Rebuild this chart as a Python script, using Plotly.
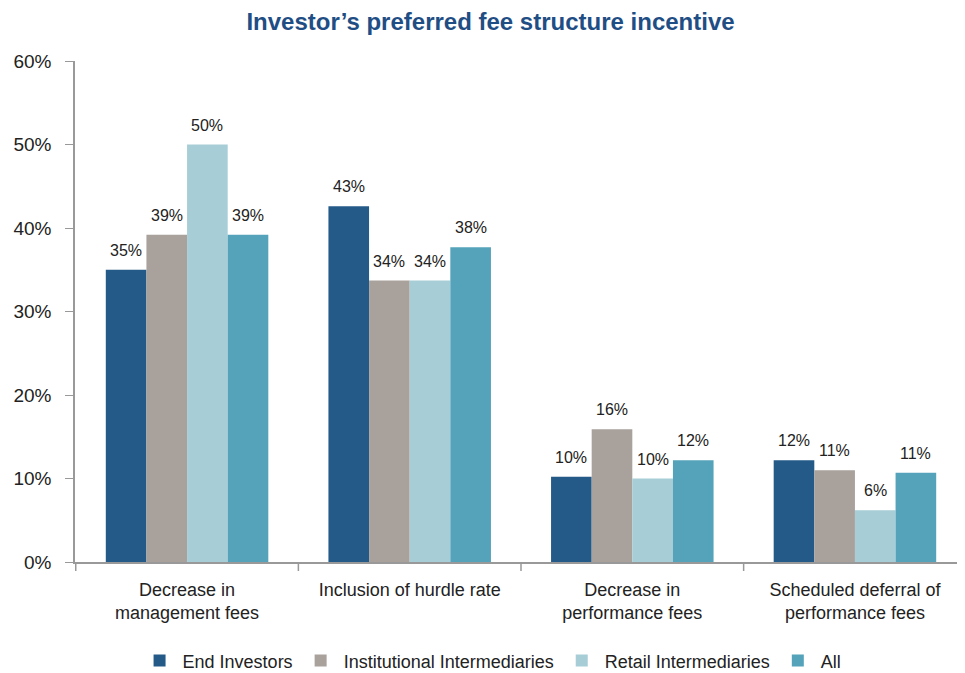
import plotly.graph_objects as go

categories = ["Decrease in<br>management fees", "Inclusion of hurdle rate",
              "Decrease in<br>performance fees", "Scheduled deferral of<br>performance fees"]
series_names = ["End Investors", "Institutional Intermediaries", "Retail Intermediaries", "All"]
end_investors = [35.0, 42.6, 10.2, 12.2]
institutional = [39.2, 33.7, 15.9, 11.0]
retail = [50.0, 33.7, 10.0, 6.2]
all_values = [39.2, 37.7, 12.2, 10.7]
colors = ["#245A87", "#A9A19C", "#A7CDD6", "#55A3BA"]
y_ticks = [0, 10, 20, 30, 40, 50, 60]
y_tick_labels = ["0%", "10%", "20%", "30%", "40%", "50%", "60%"]

font_family = "Liberation Sans, Arial, sans-serif"

W, H = 965, 673
ML, MR, MT, MB = 67, 6, 53, 119
BARGAP = 0.27
series = [end_investors, institutional, retail, all_values]

fig = go.Figure()
for name, vals, col in zip(series_names, series, colors):
    fig.add_trace(go.Bar(
        name=name, x=categories, y=vals, marker=dict(color=col, line=dict(width=0)),
    ))

# value labels placed above each bar
plot_w = W - ML - MR
cat_w = plot_w / len(categories)
bar_w = cat_w * (1 - BARGAP) / len(series)
for j, vals in enumerate(series):
    for i, v in enumerate(vals):
        fig.add_annotation(
            x=categories[i], y=v, xref="x", yref="y", text=f"{v:.0f}%", showarrow=False,
            xshift=(j - (len(series) - 1) / 2) * bar_w, yshift=9, yanchor="bottom",
            font=dict(size=16, color="#222222", family=font_family),
        )

fig.update_layout(
    width=W, height=H,
    barmode="group", bargap=BARGAP, bargroupgap=0,
    paper_bgcolor="white", plot_bgcolor="white",
    margin=dict(l=ML, r=MR, t=MT, b=MB, autoexpand=False),
    title=dict(text="<b>Investor’s preferred fee structure incentive</b>", x=0.5, xanchor="center",
               y=0.98, yanchor="middle",
               font=dict(size=24, color="#1F4E85", family=font_family)),
    font=dict(family=font_family, color="#222222"),
    legend=dict(orientation="h", x=0.467, xanchor="center", y=0.03, yref="container", yanchor="middle",
                font=dict(size=18, color="#222222"), traceorder="normal",
                itemwidth=36, tracegroupgap=0),
    xaxis=dict(showline=True, linecolor="#999999", linewidth=2, ticks="", showgrid=False,
               ticklabelstandoff=10, tickfont=dict(size=18, color="#222222")),
    yaxis=dict(range=[0, 60], tickvals=y_ticks, ticktext=y_tick_labels, showline=True,
               linecolor="#999999", linewidth=1.5, ticks="outside", ticklen=8, tickcolor="#999999",
               ticklabelstandoff=10,
               showgrid=False, zeroline=False, tickfont=dict(size=19, color="#222222")),
)

# category separator ticks on x axis
for i in range(len(categories) + 1):
    fig.add_shape(type="line", xref="x", yref="paper", x0=i - 0.5, x1=i - 0.5, y0=0, y1=-0.018,
                  line=dict(color="#999999", width=1.5))

fig.write_html("out.html")
